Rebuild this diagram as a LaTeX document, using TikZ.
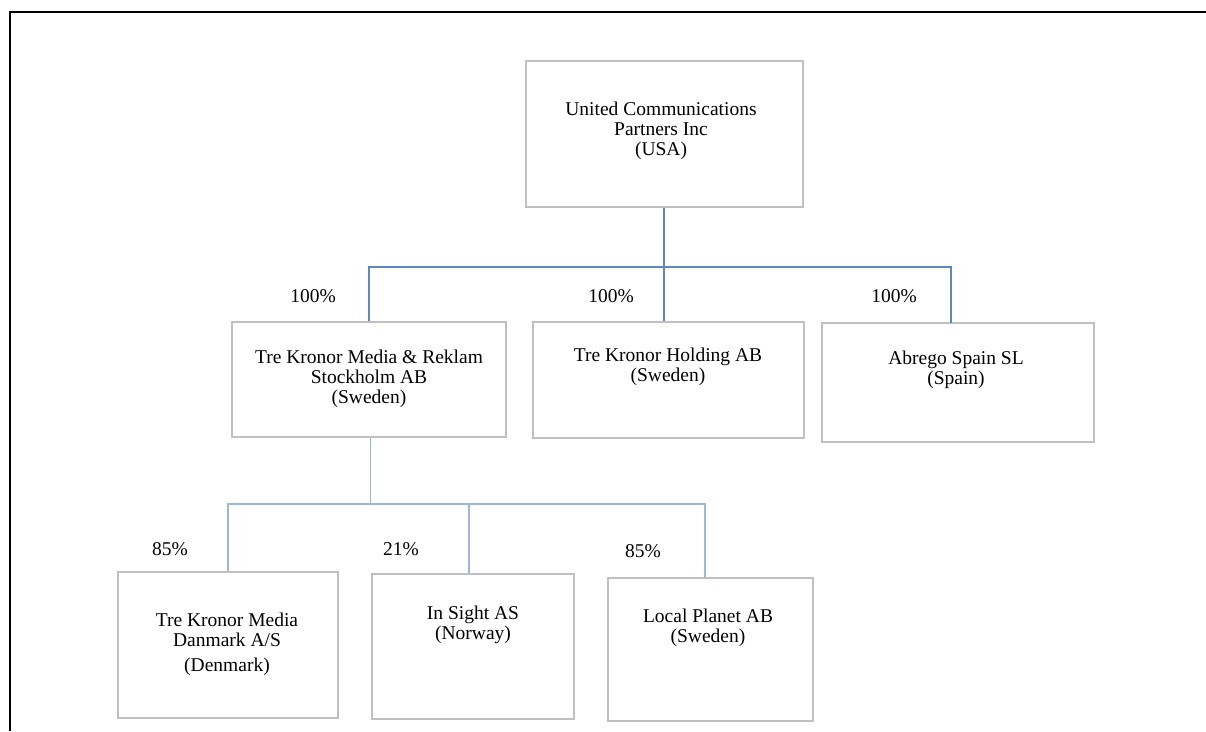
\documentclass[tikz,border=0pt]{standalone}
\usepackage{fontspec}
\setmainfont{Liberation Serif}
\definecolor{linkA}{HTML}{5B87C2}
\definecolor{linkB}{HTML}{9DB7DC}
\definecolor{boxgray}{HTML}{C0C0C0}
\begin{document}
\begin{tikzpicture}[x=1pt,y=-1pt,
  company/.style={draw=boxgray,line width=1.4pt,fill=white,inner sep=0pt},
  txt/.style={align=center,font=\fontsize{19.5}{20}\selectfont,text=black,inner sep=0pt},
  pct/.style={font=\fontsize{19.5}{20}\selectfont,inner sep=0pt},
  upper/.style={draw=linkA,line width=1.6pt},
  lower/.style={draw=linkB,line width=1.3pt}]
\useasboundingbox (0,0) rectangle (1206,731);
\fill[white] (0,0) rectangle (1206,731);
% frame
\coordinate (fbl) at (9.5,731);
\coordinate (ftl) at (9.5,11.5);
\coordinate (ftr) at (1206,11.5);
\draw[black,line width=2pt] (fbl) -- (ftl) -- (ftr);
% boxes
\node[company,minimum width=277pt,minimum height=146pt] (top) at (664.5,134) {};
\node[company,minimum width=274pt,minimum height=115pt] (A) at (369,379.5) {};
\node[company,minimum width=271pt,minimum height=116pt] (B) at (668.5,380) {};
\node[company,minimum width=272pt,minimum height=119pt] (C) at (958,382.5) {};
\node[company,minimum width=220pt,minimum height=146pt] (D) at (228,645) {};
\node[company,minimum width=202pt,minimum height=145pt] (E) at (473,646.5) {};
\node[company,minimum width=205pt,minimum height=143pt] (F) at (710.5,649.5) {};
% texts
\node[txt] (ttop) at (661,130.5) {United Communications\\Partners Inc\\(USA)};
\node[txt] (tA) at (369,378.5) {Tre Kronor Media \& Reklam\\Stockholm AB\\(Sweden)};
\node[txt] (tB) at (668,367) {Tre Kronor Holding AB\\(Sweden)};
\node[txt] (tC) at (956,370) {Abrego Spain SL\\(Spain)};
\node[txt] (tD) at (227,644) {Tre Kronor Media\\Danmark A/S\\[5pt](Denmark)};
\node[txt] (tE) at (473,625) {In Sight AS\\(Norway)};
\node[txt] (tF) at (708,628) {Local Planet AB\\(Sweden)};
% percentages
\node[pct] (pA) at (313,296) {100\%};
\node[pct] (pB) at (611,296) {100\%};
\node[pct] (pC) at (894,296) {100\%};
\node[pct] (pD) at (170,549) {85\%};
\node[pct] (pE) at (401,549) {21\%};
\node[pct] (pF) at (643,551) {85\%};
% upper connectors
\coordinate (j1) at (664,267);
\coordinate (cin) at (951,323);
\draw[upper] ([xshift=-0.5pt]top.south) -- (j1) -- ([xshift=-4.5pt]B.north);
\draw[upper] (A.north) |- (j1) -| (cin);
% lower connectors
\coordinate (j2) at (370.5,504);
\coordinate (ein) at (469,574);
\coordinate (fin) at (705,578);
\draw[lower] ([xshift=1.5pt]A.south) -- (j2);
\draw[lower] (D.north) |- (j2) -| (fin);
\draw[lower] (j2 -| ein) -- (ein);
\end{tikzpicture}
\end{document}
